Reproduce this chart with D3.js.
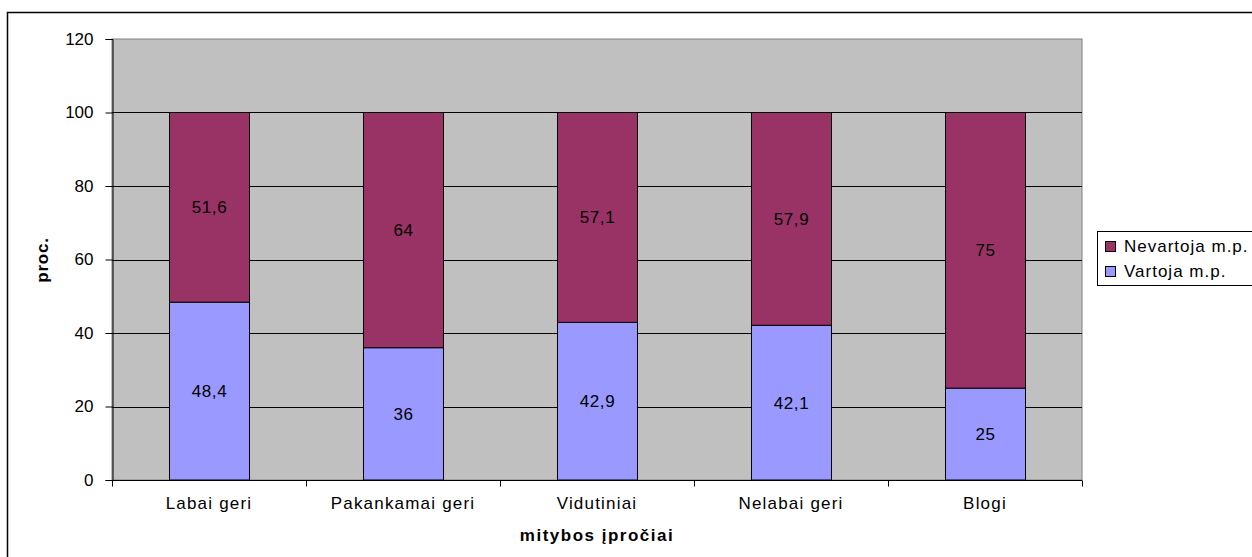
<!DOCTYPE html>
<html>
<head>
<meta charset="utf-8">
<script src="https://cdn.jsdelivr.net/npm/d3@7"></script>
<style>
  html, body { margin: 0; padding: 0; background: #fff; }
  svg { display: block; font-family: "Liberation Sans", Arial, sans-serif; }
</style>
</head>
<body>
<svg id="chart" width="1252" height="557"></svg>
<script>
// Eating habits categories and share (%) of each group
const categories = ["Labai geri", "Pakankamai geri", "Vidutiniai", "Nelabai geri", "Blogi"];
const vartoja = [48.4, 36, 42.9, 42.1, 25];
const nevartoja = [51.6, 64, 57.1, 57.9, 75];
const valueLabelsV = ["48,4", "36", "42,9", "42,1", "25"];
const valueLabelsN = ["51,6", "64", "57,1", "57,9", "75"];
const seriesNames = ["Nevartoja m.p.", "Vartoja m.p."];
const yTicks = [0, 20, 40, 60, 80, 100, 120];

const colors = { vartoja: "#9999FF", nevartoja: "#993366", plot: "#C0C0C0" };
const FS = 17;

const svg = d3.select("#chart");
const plot = { left: 112, right: 1082, top: 39, bottom: 480 };

// Outer chart frame
svg.append("rect")
  .attr("x", 7.5).attr("y", 12.5)
  .attr("width", 1300).attr("height", 600)
  .attr("fill", "#fff").attr("stroke", "#000").attr("stroke-width", 1.5);

const x = d3.scaleBand().domain(categories).range([plot.left, plot.right]).paddingInner(0.588).paddingOuter(0.294);
const xb = d3.scaleBand().domain(categories).range([plot.left, plot.right]);
const y = d3.scaleLinear().domain([0, 120]).range([plot.bottom, plot.top]);

// Plot background
svg.append("rect")
  .attr("x", plot.left).attr("y", plot.top)
  .attr("width", plot.right - plot.left).attr("height", plot.bottom - plot.top)
  .attr("fill", colors.plot).attr("stroke", "#808080").attr("stroke-width", 1);

// Horizontal gridlines
svg.append("g").selectAll("line")
  .data(yTicks.filter(d => d > 0 && d < 120))
  .join("line")
  .attr("x1", plot.left).attr("x2", plot.right)
  .attr("y1", d => Math.round(y(d)) + 0.5).attr("y2", d => Math.round(y(d)) + 0.5)
  .attr("stroke", "#000").attr("stroke-width", 1);

// Stacked bars with value labels
const g = svg.append("g");
categories.forEach((c, i) => {
  const x0 = Math.round(x(c)) + 0.5;
  const w = Math.round(x.bandwidth());
  g.append("rect")
    .attr("x", x0).attr("y", y(vartoja[i]))
    .attr("width", w).attr("height", y(0) - y(vartoja[i]))
    .attr("fill", colors.vartoja).attr("stroke", "#000").attr("stroke-width", 1);
  g.append("rect")
    .attr("x", x0).attr("y", y(vartoja[i] + nevartoja[i]))
    .attr("width", w).attr("height", y(vartoja[i]) - y(vartoja[i] + nevartoja[i]))
    .attr("fill", colors.nevartoja).attr("stroke", "#000").attr("stroke-width", 1);
  g.append("text")
    .attr("x", x0 + w / 2).attr("y", y(vartoja[i] / 2))
    .attr("dy", "0.35em").attr("text-anchor", "middle")
    .attr("font-size", FS).attr("letter-spacing", 0.6).text(valueLabelsV[i]);
  g.append("text")
    .attr("x", x0 + w / 2).attr("y", y(vartoja[i] + nevartoja[i] / 2))
    .attr("dy", "0.35em").attr("text-anchor", "middle")
    .attr("font-size", FS).attr("letter-spacing", 0.6).text(valueLabelsN[i]);
});

// Y axis
const yAxis = svg.append("g")
  .attr("transform", `translate(${plot.left + 0.5},0)`)
  .call(d3.axisLeft(y).tickValues(yTicks).tickSize(7).tickPadding(12));
yAxis.select(".domain").attr("stroke", "#000");
yAxis.selectAll("text").attr("font-size", FS).attr("fill", "#000")
  .attr("font-family", "Liberation Sans, Arial, sans-serif");

// X axis with ticks at category boundaries
const xAxisG = svg.append("g").attr("transform", `translate(0,${plot.bottom + 0.5})`);
xAxisG.append("line").attr("x1", plot.left).attr("x2", plot.right).attr("stroke", "#000");
xAxisG.selectAll("line.tick")
  .data(categories.concat(["end"]))
  .join("line").attr("class", "tick")
  .attr("x1", (d, i) => Math.round(plot.left + i * xb.bandwidth()) + 0.5)
  .attr("x2", (d, i) => Math.round(plot.left + i * xb.bandwidth()) + 0.5)
  .attr("y1", 0).attr("y2", 6).attr("stroke", "#000");
xAxisG.selectAll("text")
  .data(categories).join("text")
  .attr("x", d => xb(d) + xb.bandwidth() / 2).attr("y", 28)
  .attr("text-anchor", "middle").attr("font-size", FS).attr("letter-spacing", 1.2)
  .text(d => d);

// Axis titles
svg.append("text")
  .attr("x", plot.left + (plot.right - plot.left) / 2).attr("y", 541)
  .attr("text-anchor", "middle").attr("font-size", FS).attr("font-weight", "bold")
  .attr("letter-spacing", 1.5)
  .text("mitybos įpročiai");
svg.append("text")
  .attr("transform", "translate(48,260) rotate(-90)")
  .attr("text-anchor", "middle").attr("font-size", FS).attr("font-weight", "bold")
  .attr("letter-spacing", 0.8)
  .text("proc.");

// Legend
const legend = svg.append("g");
legend.append("rect")
  .attr("x", 1097.5).attr("y", 231.5).attr("width", 170).attr("height", 54)
  .attr("fill", "#fff").attr("stroke", "#000").attr("stroke-width", 1);
const legendColors = [colors.nevartoja, colors.vartoja];
seriesNames.forEach((name, i) => {
  const ly = 246 + i * 25;
  legend.append("rect")
    .attr("x", 1105.5).attr("y", ly - 4.5).attr("width", 10).attr("height", 10)
    .attr("fill", legendColors[i]).attr("stroke", "#000");
  legend.append("text")
    .attr("x", 1124).attr("y", ly).attr("dy", "0.35em")
    .attr("font-size", FS).attr("letter-spacing", 1).text(name);
});
</script>
</body>
</html>
